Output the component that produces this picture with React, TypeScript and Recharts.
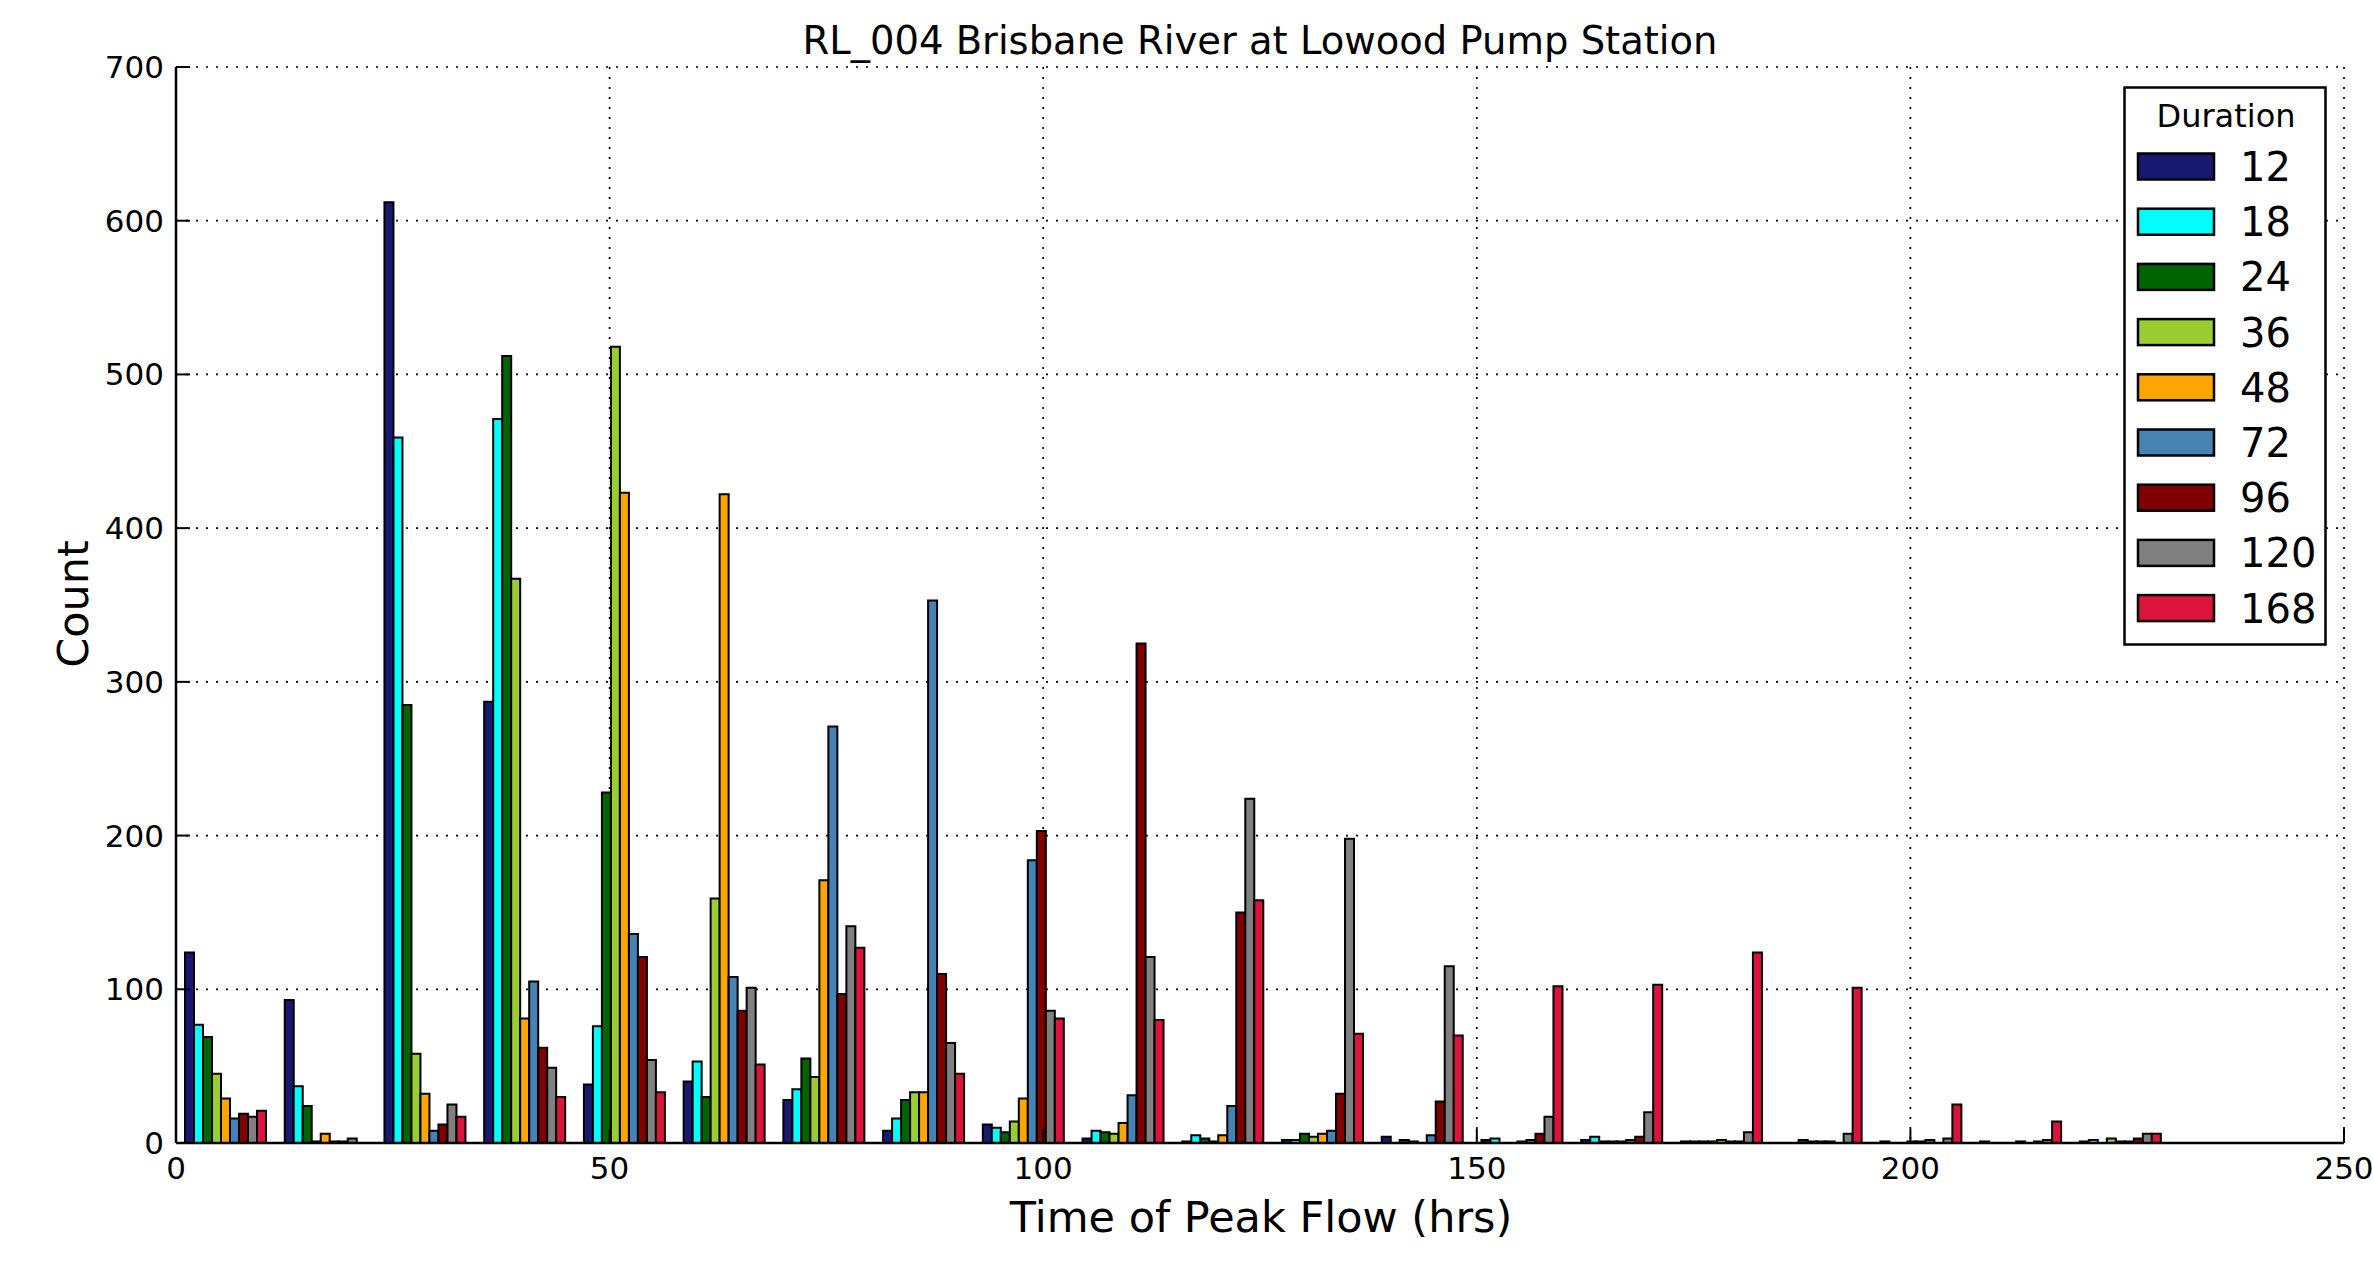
import { BarChart, Bar, XAxis, YAxis, CartesianGrid, Legend } from 'recharts';

// centre of each 11.5 hr histogram bin (0 .. 230)
const binCenters = [5.75, 17.25, 28.75, 40.25, 51.75, 63.25, 74.75, 86.25, 97.75, 109.25,
    120.75, 132.25, 143.75, 155.25, 166.75, 178.25, 189.75, 201.25, 212.75, 224.25];

const durations = ['12', '18', '24', '36', '48', '72', '96', '120', '168'];
const colors = ['#191970', '#00ffff', '#006400', '#9acd32', '#ffa500', '#4682b4', '#800000', '#808080', '#dc143c'];

const counts12 = [124, 93, 612, 287, 38, 40, 28, 8, 12, 3, 1, 2, 4, 2, 2, 1, 0, 1, 1, 1];
const counts18 = [77, 37, 459, 471, 76, 53, 35, 16, 10, 8, 5, 2, 0, 3, 4, 1, 0, 0, 0, 2];
const counts24 = [69, 24, 285, 512, 228, 30, 55, 28, 7, 7, 3, 6, 2, 0, 1, 1, 2, 0, 0, 0];
const counts36 = [45, 1, 58, 367, 518, 159, 43, 33, 14, 6, 1, 4, 1, 0, 1, 1, 1, 1, 0, 3];
const counts48 = [29, 6, 32, 81, 423, 422, 171, 33, 29, 13, 5, 6, 0, 1, 1, 2, 1, 1, 1, 1];
const counts72 = [16, 1, 8, 105, 136, 108, 271, 353, 184, 31, 24, 8, 5, 2, 2, 1, 1, 2, 0, 1];
const counts96 = [19, 1, 12, 62, 121, 86, 97, 110, 203, 325, 150, 32, 27, 6, 4, 1, 0, 0, 1, 3];
const counts120 = [17, 3, 25, 49, 54, 101, 141, 65, 86, 121, 224, 198, 115, 17, 20, 7, 6, 3, 2, 6];
const counts168 = [21, 0, 17, 30, 33, 51, 127, 45, 81, 80, 158, 71, 70, 102, 103, 124, 101, 25, 14, 6];

const allCounts = [counts12, counts18, counts24, counts36, counts48, counts72, counts96, counts120, counts168];

const xTicks = [0, 50, 100, 150, 200, 250];
const yTicks = [0, 100, 200, 300, 400, 500, 600, 700];

const data = binCenters.map((t, i) => {
    const row: Record<string, number> = { t };
    durations.forEach((d, k) => {
        row['d' + d] = allCounts[k][i];
    });
    return row;
});

const FONT = '"DejaVu Sans", Verdana, sans-serif';
const tickStyle = { fill: '#000', fontSize: 31, fontFamily: FONT };

function DurationLegend() {
    return (
        <svg width={204} height={560} style={{ display: 'block' }}>
            <rect x={1.5} y={1.5} width={201} height={557} fill="#fff" stroke="#000" strokeWidth={2.5} />
            <text x={103} y={40.5} fontSize={32} textAnchor="middle" fontFamily={FONT}>Duration</text>
            {durations.map((d, k) => {
                const cy = 80.5 + k * 55.2;
                return (
                    <g key={d}>
                        <rect x={15} y={cy - 13} width={76} height={26} fill={colors[k]} stroke="#000" strokeWidth={2.5} />
                        <text x={117} y={cy + 14.5} fontSize={40} fontFamily={FONT}>{d}</text>
                    </g>
                );
            })}
        </svg>
    );
}

export default function App() {
    return (
        <div style={{ position: 'absolute', left: 0, top: 0, width: 2373, height: 1261, background: '#fff' }}>
            <svg width={2373} height={70} style={{ position: 'absolute', left: 0, top: 0 }}>
                <text x={1260} y={54} fontSize={38.5} textAnchor="middle" fontFamily={FONT}>
                    RL_004 Brisbane River at Lowood Pump Station
                </text>
            </svg>
            <BarChart
                width={2373}
                height={1261}
                data={data}
                margin={{ top: 67, right: 29, bottom: 18, left: 56 }}
                barGap={0}
                barSize={9}
                style={{ position: 'absolute', left: 0, top: 0 }}
            >
                <CartesianGrid stroke="#000" strokeDasharray="2 8" strokeWidth={1.7} />
                <XAxis
                    dataKey="t"
                    type="number"
                    domain={[0, 250]}
                    ticks={xTicks}
                    height={100}
                    tick={tickStyle}
                    tickSize={-14}
                    tickMargin={28}
                    axisLine={{ stroke: '#000', strokeWidth: 2.5 }}
                    tickLine={{ stroke: '#000', strokeWidth: 2 }}
                    label={{
                        content: () => (
                            <text x={1261} y={1232} fontSize={43} textAnchor="middle" fontFamily={FONT}>
                                Time of Peak Flow (hrs)
                            </text>
                        ),
                    }}
                />
                <XAxis
                    xAxisId="top"
                    orientation="top"
                    type="number"
                    domain={[0, 250]}
                    ticks={xTicks}
                    height={0}
                    tickSize={-14}
                    tickFormatter={() => ''}
                    axisLine={{ stroke: '#000', strokeWidth: 3 }}
                    tickLine={{ stroke: '#000', strokeWidth: 2 }}
                />
                <YAxis
                    type="number"
                    domain={[0, 700]}
                    ticks={yTicks}
                    width={120}
                    tick={tickStyle}
                    tickSize={-14}
                    tickMargin={26}
                    axisLine={{ stroke: '#000', strokeWidth: 2.5 }}
                    tickLine={{ stroke: '#000', strokeWidth: 2 }}
                    label={{
                        content: () => (
                            <text x={88} y={604} fontSize={43} textAnchor="middle" fontFamily={FONT}
                                transform="rotate(-90 88 604)">
                                Count
                            </text>
                        ),
                    }}
                />
                <YAxis
                    yAxisId="right"
                    orientation="right"
                    type="number"
                    domain={[0, 700]}
                    ticks={yTicks}
                    width={0}
                    tickSize={-14}
                    tickFormatter={() => ''}
                    axisLine={{ stroke: '#000', strokeWidth: 3 }}
                    tickLine={{ stroke: '#000', strokeWidth: 2 }}
                />
                <Legend
                    layout="vertical"
                    align="center"
                    verticalAlign="middle"
                    content={() => <DurationLegend />}
                    wrapperStyle={{ left: 2123, top: 86, width: 204, height: 560 }}
                />
                {durations.map((d, k) => (
                    <Bar
                        key={d}
                        dataKey={'d' + d}
                        name={d}
                        fill={colors[k]}
                        stroke="#000"
                        strokeWidth={2}
                        isAnimationActive={false}
                    />
                ))}
            </BarChart>
        </div>
    );
}
